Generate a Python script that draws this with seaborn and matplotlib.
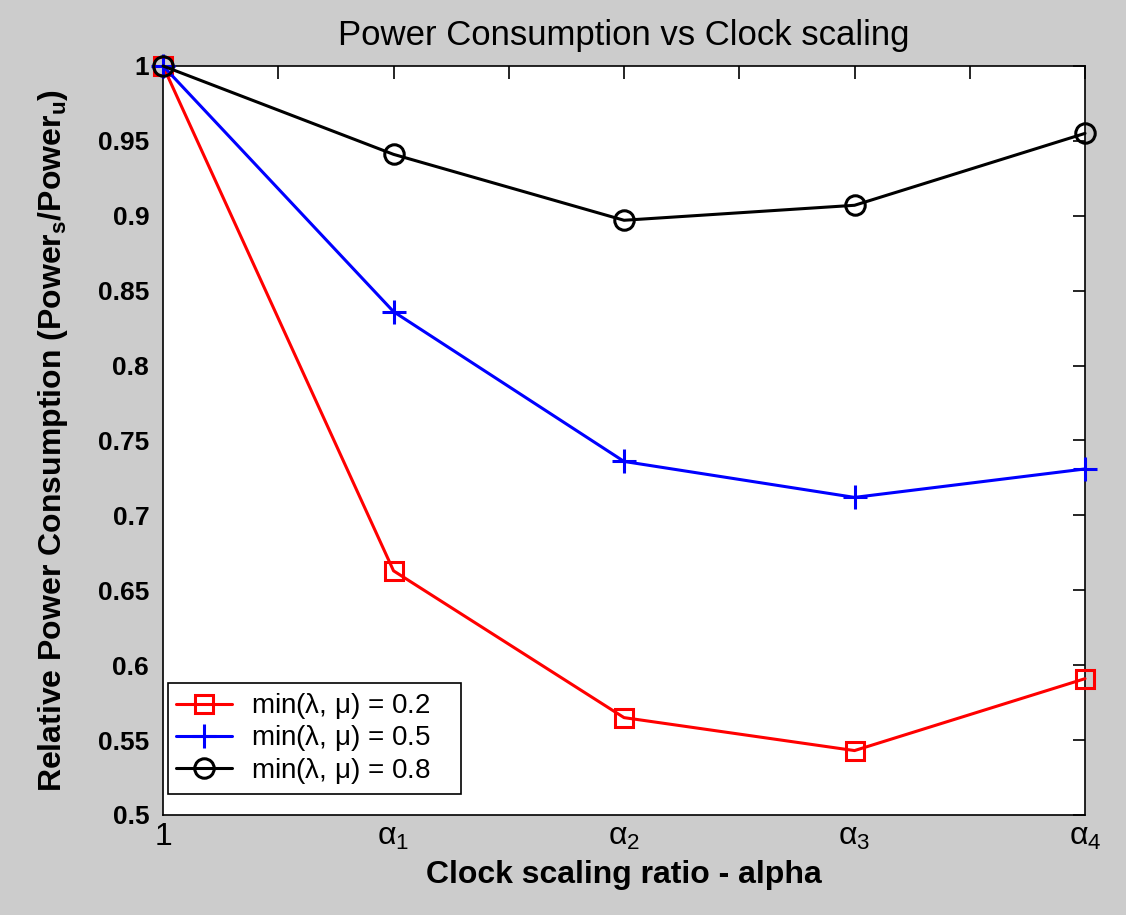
import matplotlib
matplotlib.use("Agg")
import matplotlib.pyplot as plt
import seaborn as sns
import pandas as pd
from matplotlib.ticker import MultipleLocator, FixedLocator

x_pos = [0, 1, 2, 3, 4]
x_labels = ["1", r"$\alpha_1$", r"$\alpha_2$", r"$\alpha_3$", r"$\alpha_4$"]
y_ticks = [0.5, 0.55, 0.6, 0.65, 0.7, 0.75, 0.8, 0.85, 0.9, 0.95, 1.0]
y_labels = ["0.5", "0.55", "0.6", "0.65", "0.7", "0.75", "0.8", "0.85", "0.9", "0.95", "1"]

series_names = [r"min($\lambda$, $\mu$) = 0.2", r"min($\lambda$, $\mu$) = 0.5", r"min($\lambda$, $\mu$) = 0.8"]
red_vals = [1.0, 0.663, 0.565, 0.543, 0.591]
blue_vals = [1.0, 0.836, 0.736, 0.712, 0.731]
black_vals = [1.0, 0.941, 0.897, 0.907, 0.955]
colors = ["#ff0000", "#0000ff", "#000000"]
markers = ["s", "+", "o"]
msizes = [13, 17, 14]

sns.set_theme(style="white")
plt.rcParams["font.family"] = ["Liberation Sans", "DejaVu Sans"]
plt.rcParams["mathtext.fontset"] = "custom"
plt.rcParams["mathtext.rm"] = "Liberation Sans"
plt.rcParams["mathtext.it"] = "Liberation Sans"
plt.rcParams["mathtext.default"] = "regular"
for k in ["text.color", "axes.labelcolor", "xtick.color", "ytick.color", "axes.edgecolor"]:
    plt.rcParams[k] = "black"

fig = plt.figure(figsize=(11.26, 9.15), dpi=100, facecolor="#cccccc")
ax = fig.add_axes([0.1448, 0.1093, 0.8188, 0.8186])
ax.set_facecolor("white")

for name, vals, c, m, ms in zip(series_names, [red_vals, blue_vals, black_vals], colors, markers, msizes):
    df = pd.DataFrame({"x": x_pos, "y": vals})
    sns.lineplot(data=df, x="x", y="y", ax=ax, color=c, linewidth=2.2, marker=m,
                 markersize=ms, markerfacecolor="none", markeredgecolor=c,
                 markeredgewidth=2.2, label=name, clip_on=False, zorder=3)

ax.set_xlim(0, 4)
ax.set_ylim(0.5, 1.0)
ax.xaxis.set_major_locator(FixedLocator(x_pos))
ax.set_xticklabels(x_labels, fontsize=23)
ax.xaxis.set_minor_locator(MultipleLocator(0.5))
ax.yaxis.set_major_locator(FixedLocator(y_ticks))
ax.set_yticklabels(y_labels, fontsize=19, fontweight="bold")
ax.tick_params(axis="both", which="both", direction="in", top=True, right=True,
               length=9, width=1.2, color="black")
ax.tick_params(axis="x", which="major", pad=5)
ax.tick_params(axis="y", which="major", pad=10)
for s in ax.spines.values():
    s.set_visible(True)
    s.set_color("black")
    s.set_linewidth(1.2)

ax.set_title("Power Consumption vs Clock scaling", fontsize=25, pad=15)
ax.set_xlabel("Clock scaling ratio - alpha", fontsize=23, fontweight="bold", labelpad=6)
ax.set_ylabel(r"Relative Power Consumption (Power$_s$/Power$_u$)", fontsize=23,
              fontweight="bold", labelpad=20)

leg = ax.legend(loc="lower left", fontsize=20, frameon=True, fancybox=False,
                edgecolor="black", framealpha=1, borderpad=0.3, labelspacing=0.08,
                handlelength=2.0, handletextpad=0.7, borderaxespad=0,
                bbox_to_anchor=(0.0054, 0.028, 0.318, 0.1), mode="expand")
leg.get_frame().set_linewidth(1.2)
leg._legend_box.align = "left"

fig.savefig("out.png", dpi=100, facecolor=fig.get_facecolor())
